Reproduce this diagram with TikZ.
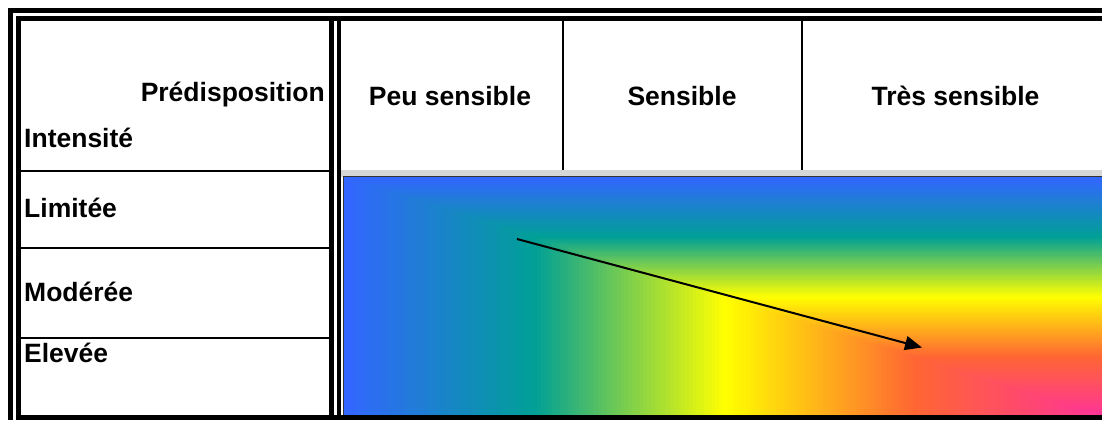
\documentclass[tikz,border=0pt]{standalone}
\usepackage{fontspec}
\setmainfont{Liberation Sans}
\usetikzlibrary{arrows.meta}
\definecolor{gA}{RGB}{51,102,255}
\definecolor{gB}{RGB}{0,160,150}
\definecolor{gC}{RGB}{255,255,0}
\definecolor{gD}{RGB}{255,102,51}
\definecolor{gE}{RGB}{255,51,153}
\definecolor{bandgray}{RGB}{214,214,214}
\tikzset{
  lbl/.style={inner sep=0pt, font=\fontsize{26.5}{30}\selectfont\bfseries, text=black},
  bord/.style={line width=4.5pt, black},
  rule/.style={line width=2pt, black},
  arr/.style={line width=2pt, -{Triangle[length=17pt,width=14pt]}},
}
\begin{document}
\begin{tikzpicture}[x=1pt,y=-1pt]
\useasboundingbox (0,0) rectangle (1102,420);
\fill[white] (0,0) rectangle (1102,420);
% gradient band
\fill[bandgray] (341.3,170) rectangle (1102,177);
\begin{scope}
\clip (344,177) rectangle (1102,416);
\foreach \ca/\cb [count=\k from 0] in {gA/gB,gB/gC,gC/gD,gD/gE}{
  \foreach \j in {0,...,49}{
    \pgfmathsetmacro\c{(\k*50+\j)/200}
    \pgfmathtruncatemacro\p{100-2*\j}
    \fill[\ca!\p!\cb] ({344+\c*758},{177+\c*239}) rectangle (1103,417);
  }
}
\end{scope}
\draw[black!80, line width=1.2pt] (343.6,416) -- (343.6,176.6) -- (1102,176.6);
% table borders
\draw[bord] (8,10.3) -- (1102,10.3);
\draw[bord] (10.3,8) -- (10.3,420);
\draw[bord] (16,18.3) -- (1102,18.3);
\draw[bord] (18.3,16) -- (18.3,420);
\draw[bord] (16,417.7) -- (1102,417.7);
\draw[bord] (331.3,18.3) -- (331.3,420);
\draw[bord] (339,18.3) -- (339,420);
% left column rules
\draw[rule] (20,171) -- (329,171);
\draw[rule] (20,247.6) -- (329,247.6);
\draw[rule] (20,337.7) -- (329,337.7);
% header separators
\draw[rule] (563,20) -- (563,170);
\draw[rule] (802,20) -- (802,170);
% labels
\node[lbl, anchor=base east] (pred) at (325,101.7) {Prédisposition};
\node[lbl, anchor=base west] (int) at (24,147.7) {Intensité};
\node[lbl, anchor=base] (peu) at (450,105.3) {Peu sensible};
\node[lbl, anchor=base] (sens) at (682,105.3) {Sensible};
\node[lbl, anchor=base] (tres) at (955.5,105.3) {Très sensible};
\node[lbl, anchor=base west] (lim) at (24,217.3) {Limitée};
\node[lbl, anchor=base west] (mod) at (24,301.7) {Modérée};
\node[lbl, anchor=base west] (elev) at (24,362.7) {Elevée};
% arrow
\coordinate (astart) at (517,239);
\coordinate (aend) at (922,347.5);
\draw[arr] (astart) -- (aend);
\end{tikzpicture}
\end{document}
